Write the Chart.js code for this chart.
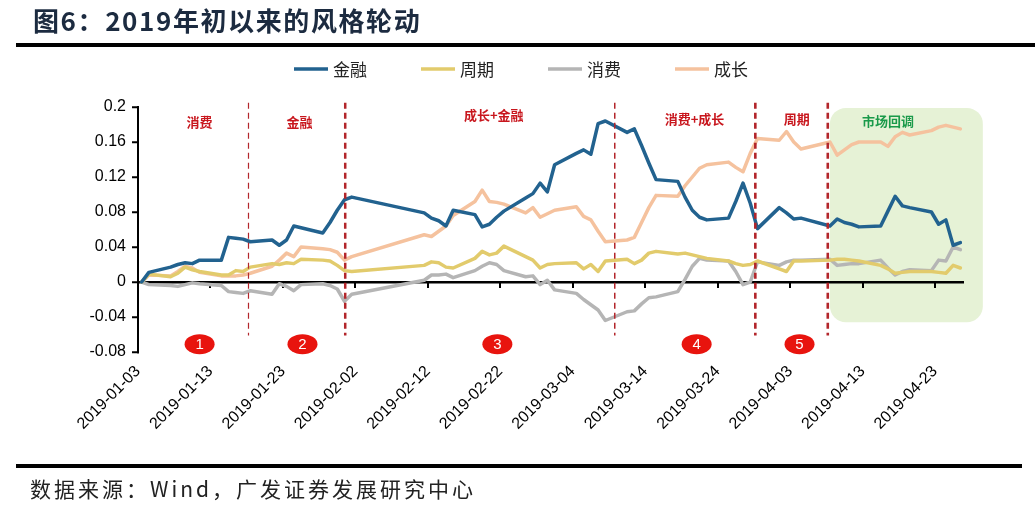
<!DOCTYPE html>
<html><head><meta charset="utf-8">
<script src="https://cdn.jsdelivr.net/npm/chart.js@4.4.1/dist/chart.umd.min.js"></script>
<style>
html,body{margin:0;padding:0;background:#fff;width:1035px;height:512px;overflow:hidden;}
#wrap{position:relative;width:1035px;height:512px;}
#c{position:absolute;left:0;top:0;width:1035px;height:512px;}
#title{position:absolute;left:33px;top:0px;font-family:"Noto Sans CJK SC";font-weight:700;font-size:26px;line-height:40px;color:#1c2b40;letter-spacing:1.6px;white-space:nowrap;}
.rule{position:absolute;background:#000;}
#src{position:absolute;left:30px;top:473px;font-family:"Noto Sans CJK SC";font-size:21px;line-height:30px;color:#222;letter-spacing:3px;white-space:nowrap;}
</style></head><body>
<div id="wrap">
<canvas id="c" width="1035" height="512"></canvas>
<div id="title">图6：2019年初以来的风格轮动</div>
<div class="rule" style="left:16px;top:43px;width:1019px;height:4px"></div>
<div class="rule" style="left:16px;top:464px;width:1006px;height:4px"></div>
<div id="src">数据来源：Wind，广发证券发展研究中心</div>
</div>
<script>
// ---- data ----
const dates = [
'2019-01-03','2019-01-04','2019-01-07','2019-01-08','2019-01-09','2019-01-10','2019-01-11','2019-01-14','2019-01-15','2019-01-16','2019-01-17','2019-01-18','2019-01-21','2019-01-22','2019-01-23','2019-01-24','2019-01-25','2019-01-28','2019-01-29','2019-01-30','2019-01-31',
'2019-02-01','2019-02-11','2019-02-12','2019-02-13','2019-02-14','2019-02-15','2019-02-18','2019-02-19','2019-02-20','2019-02-21','2019-02-22','2019-02-25','2019-02-26','2019-02-27','2019-02-28',
'2019-03-01','2019-03-04','2019-03-05','2019-03-06','2019-03-07','2019-03-08','2019-03-11','2019-03-12','2019-03-13','2019-03-14','2019-03-15','2019-03-18','2019-03-19','2019-03-20','2019-03-21','2019-03-22','2019-03-25','2019-03-26','2019-03-27','2019-03-28','2019-03-29',
'2019-04-01','2019-04-02','2019-04-03','2019-04-04','2019-04-08','2019-04-09','2019-04-10','2019-04-11','2019-04-12','2019-04-15','2019-04-16','2019-04-17','2019-04-18','2019-04-19','2019-04-22','2019-04-23','2019-04-24','2019-04-25','2019-04-26'
];
const finance = [
0,0.011,0.017,0.020,0.022,0.021,0.025,0.025,0.051,0.050,0.049,0.046,0.048,0.042,0.048,0.064,0.062,0.056,0.068,0.082,0.094,
0.097,0.079,0.073,0.070,0.064,0.082,0.077,0.063,0.066,0.074,0.081,0.096,0.101,0.113,0.103,
0.134,0.147,0.151,0.146,0.181,0.184,0.171,0.175,0.156,0.136,0.117,0.115,0.097,0.082,0.074,0.071,0.073,0.092,0.113,0.090,0.061,
0.085,0.079,0.072,0.073,0.064,0.072,0.068,0.066,0.063,0.064,0.081,0.098,0.087,0.085,0.080,0.066,0.071,0.042,0.045
];
const cyclical = [
0,0.009,0.006,0.010,0.017,0.014,0.012,0.008,0.008,0.013,0.012,0.017,0.021,0.020,0.022,0.021,0.026,0.025,0.024,0.019,0.013,
0.012,0.019,0.023,0.022,0.017,0.016,0.027,0.035,0.031,0.033,0.041,0.029,0.025,0.016,0.020,
0.021,0.022,0.015,0.020,0.012,0.024,0.026,0.021,0.025,0.033,0.035,0.032,0.033,0.031,0.029,0.027,0.024,0.021,0.019,0.020,0.024,
0.015,0.012,0.024,0.024,0.025,0.026,0.026,0.025,0.024,0.019,0.015,0.010,0.011,0.012,0.012,0.011,0.010,0.019,0.016
];
const consumer = [
0,-0.003,-0.004,-0.005,-0.003,-0.001,-0.002,-0.004,-0.011,-0.012,-0.013,-0.010,-0.014,-0.002,-0.005,-0.010,-0.003,-0.002,-0.004,-0.008,-0.022,
-0.014,0.002,0.008,0.008,0.009,0.005,0.013,0.018,0.022,0.020,0.013,0.006,0.007,-0.003,0.002,
-0.009,-0.013,-0.020,-0.026,-0.032,-0.044,-0.034,-0.033,-0.025,-0.018,-0.017,-0.011,0.003,0.018,0.027,0.025,0.024,0.012,-0.003,0.000,0.023,
0.019,0.023,0.025,0.025,0.026,0.019,0.020,0.021,0.021,0.025,0.016,0.008,0.012,0.014,0.013,0.025,0.024,0.040,0.037
];
const growth = [
0,0.008,0.007,0.012,0.018,0.016,0.011,0.007,0.007,0.007,0.008,0.010,0.018,0.025,0.033,0.029,0.040,0.038,0.037,0.034,0.025,
0.029,0.054,0.052,0.058,0.064,0.076,0.092,0.105,0.092,0.091,0.089,0.079,0.085,0.074,0.078,
0.082,0.086,0.075,0.071,0.058,0.046,0.048,0.051,0.068,0.085,0.099,0.098,0.110,0.120,0.130,0.134,0.137,0.131,0.126,0.147,0.164,
0.162,0.172,0.160,0.152,0.160,0.145,0.151,0.157,0.160,0.160,0.155,0.166,0.171,0.168,0.173,0.177,0.179,0.177,0.175
];
const seriesNames = ['金融','周期','消费','成长'];
const xTickLabels = ['2019-01-03','2019-01-13','2019-01-23','2019-02-02','2019-02-12','2019-02-22','2019-03-04','2019-03-14','2019-03-24','2019-04-03','2019-04-13','2019-04-23'];
const yTickValues = [-0.08,-0.04,0,0.04,0.08,0.12,0.16,0.2];
const phaseNames = ['消费','金融','成长+金融','消费+成长','周期','市场回调'];
const phaseNumbers = ['1','2','3','4','5'];

// ---- styling / helpers ----
const colors = ['#22628f','#e2cb6c','#b5b5b5','#f5c29e'];
const BASE = Date.UTC(2019,0,3);
function dayOf(s){const p=s.split('-').map(Number);return Math.round((Date.UTC(p[0],p[1]-1,p[2])-BASE)/86400000);}
function labelOf(v){const d=new Date(BASE+v*86400000);const m=String(d.getUTCMonth()+1).padStart(2,'0');const dd=String(d.getUTCDate()).padStart(2,'0');return d.getUTCFullYear()+'-'+m+'-'+dd;}
const axisEnd = dayOf(dates[dates.length-1]) + 1;
// points sit in the middle of their day slot (date axis, between tick marks)
function pts(arr){return arr.map((v,i)=>({x:dayOf(dates[i])+0.5,y:v}));}

// annotation layout (axis units: days / values)
const dividers = [{x:15.25,w:1.2},{x:28.6,w:2.5},{x:65.8,w:1.5},{x:85.2,w:2.6},{x:95.2,w:2.6}];
const dividerSpan = [0.205,-0.061];
const phaseLabelPos = [{x:8.5,y:0.183},{x:22.3,y:0.183},{x:49.1,y:0.191},{x:76.8,y:0.186},{x:90.9,y:0.186},{x:103.5,y:0.184}];
const circlePos = [8.5,22.7,49.6,77.1,91.3];
const circleY = -0.071;
const shade = {from:95.5,to:116.6,top:0.199,bottom:-0.046,color:'#e6f2d6',r:16};

function rrect(ctx,x,y,w,h,r){ctx.beginPath();ctx.moveTo(x+r,y);ctx.arcTo(x+w,y,x+w,y+h,r);ctx.arcTo(x+w,y+h,x,y+h,r);ctx.arcTo(x,y+h,x,y,r);ctx.arcTo(x,y,x+w,y,r);ctx.closePath();}

const decor = {
  id:'decor',
  beforeDraw(chart){
    const {ctx,scales:{x,y}}=chart;
    ctx.save();
    ctx.fillStyle='#fff';ctx.fillRect(0,0,chart.width,chart.height);
    const x0=x.getPixelForValue(shade.from),x1=x.getPixelForValue(shade.to);
    const y0=y.getPixelForValue(shade.top),y1=y.getPixelForValue(shade.bottom);
    ctx.fillStyle=shade.color;rrect(ctx,x0,y0,x1-x0,y1-y0,shade.r);ctx.fill();
    ctx.restore();
  },
  beforeDatasetsDraw(chart){
    const {ctx,scales:{x,y}}=chart;
    const zy=y.getPixelForValue(0);
    ctx.save();ctx.strokeStyle='#000';ctx.lineWidth=2;
    x.ticks.forEach(t=>{const px=Math.round(x.getPixelForValue(t.value));ctx.beginPath();ctx.moveTo(px,zy);ctx.lineTo(px,zy+6);ctx.stroke();});
    ctx.restore();
  },
  afterDatasetsDraw(chart){
    const {ctx,scales:{x,y}}=chart;
    ctx.save();
    // dividers
    ctx.strokeStyle='#b3262b';
    dividers.forEach(d=>{const px=x.getPixelForValue(d.x);ctx.lineWidth=d.w;ctx.setLineDash([6,4]);ctx.beginPath();ctx.moveTo(px,y.getPixelForValue(dividerSpan[0]));ctx.lineTo(px,y.getPixelForValue(dividerSpan[1]));ctx.stroke();});
    ctx.setLineDash([]);
    // phase labels
    ctx.textAlign='center';ctx.textBaseline='middle';
    ctx.font='bold 13px "Noto Sans CJK SC"';
    phaseNames.forEach((n,i)=>{ctx.fillStyle=i===phaseNames.length-1?'#1a9a4a':'#c8161d';ctx.fillText(n,x.getPixelForValue(phaseLabelPos[i].x),y.getPixelForValue(phaseLabelPos[i].y));});
    // numbered circles
    phaseNumbers.forEach((n,i)=>{const cx=x.getPixelForValue(circlePos[i]),cy=y.getPixelForValue(circleY);
      ctx.fillStyle='#e8140e';ctx.beginPath();ctx.ellipse(cx,cy,15,10,0,0,Math.PI*2);ctx.fill();
      ctx.fillStyle='#fff';ctx.font='15px Arial, "Liberation Sans"';ctx.fillText(n,cx,cy+1);});
    // legend
    const L={x:294,y:69,len:34,gap:5,step:127};
    ctx.textAlign='left';ctx.font='17px "Noto Sans CJK SC"';
    chart.data.datasets.forEach((ds,i)=>{const lx=L.x+i*L.step;ctx.strokeStyle=ds.borderColor;ctx.lineWidth=3.5;ctx.beginPath();ctx.moveTo(lx,L.y);ctx.lineTo(lx+L.len,L.y);ctx.stroke();
      ctx.fillStyle='#222';ctx.fillText(ds.label,lx+L.len+L.gap,L.y+1);});
    ctx.restore();
  }
};

const series=[finance,cyclical,consumer,growth];
new Chart(document.getElementById('c'),{
  type:'line',
  data:{datasets:series.map((s,i)=>({label:seriesNames[i],data:pts(s),borderColor:colors[i],backgroundColor:colors[i],borderWidth:3.5,pointRadius:0,tension:0,borderJoinStyle:'round',borderCapStyle:'round'}))},
  options:{
    responsive:false,animation:false,devicePixelRatio:1,
    layout:{padding:{left:0,right:71,top:107,bottom:0}},
    plugins:{legend:{display:false},tooltip:{enabled:false}},
    scales:{
      x:{type:'linear',min:0,max:axisEnd,
        afterBuildTicks(s){s.ticks=xTickLabels.map(l=>({value:dayOf(l)}));},
        afterFit(s){s.height=160;},
        ticks:{autoSkip:false,maxRotation:45,minRotation:45,padding:10,color:'#000',font:{family:'Arial, "Liberation Sans"',size:16},callback:v=>labelOf(v)},
        grid:{display:false,drawTicks:false},border:{display:false}},
      y:{min:-0.08,max:0.2,
        afterBuildTicks(s){s.ticks=yTickValues.map(v=>({value:v}));},
        afterFit(s){s.width=138;},
        ticks:{color:'#000',padding:6,font:{family:'Arial, "Liberation Sans"',size:16},callback:v=>String(parseFloat(Number(v).toFixed(2)))},
        grid:{color:c=>(c.tick&&c.tick.value===0)?'#000':'rgba(0,0,0,0)',lineWidth:2.5,tickColor:'#000',tickLength:6,tickWidth:2},
        border:{display:true,color:'#000',width:2}}
    }
  },
  plugins:[decor]
});
</script>
</body></html>
